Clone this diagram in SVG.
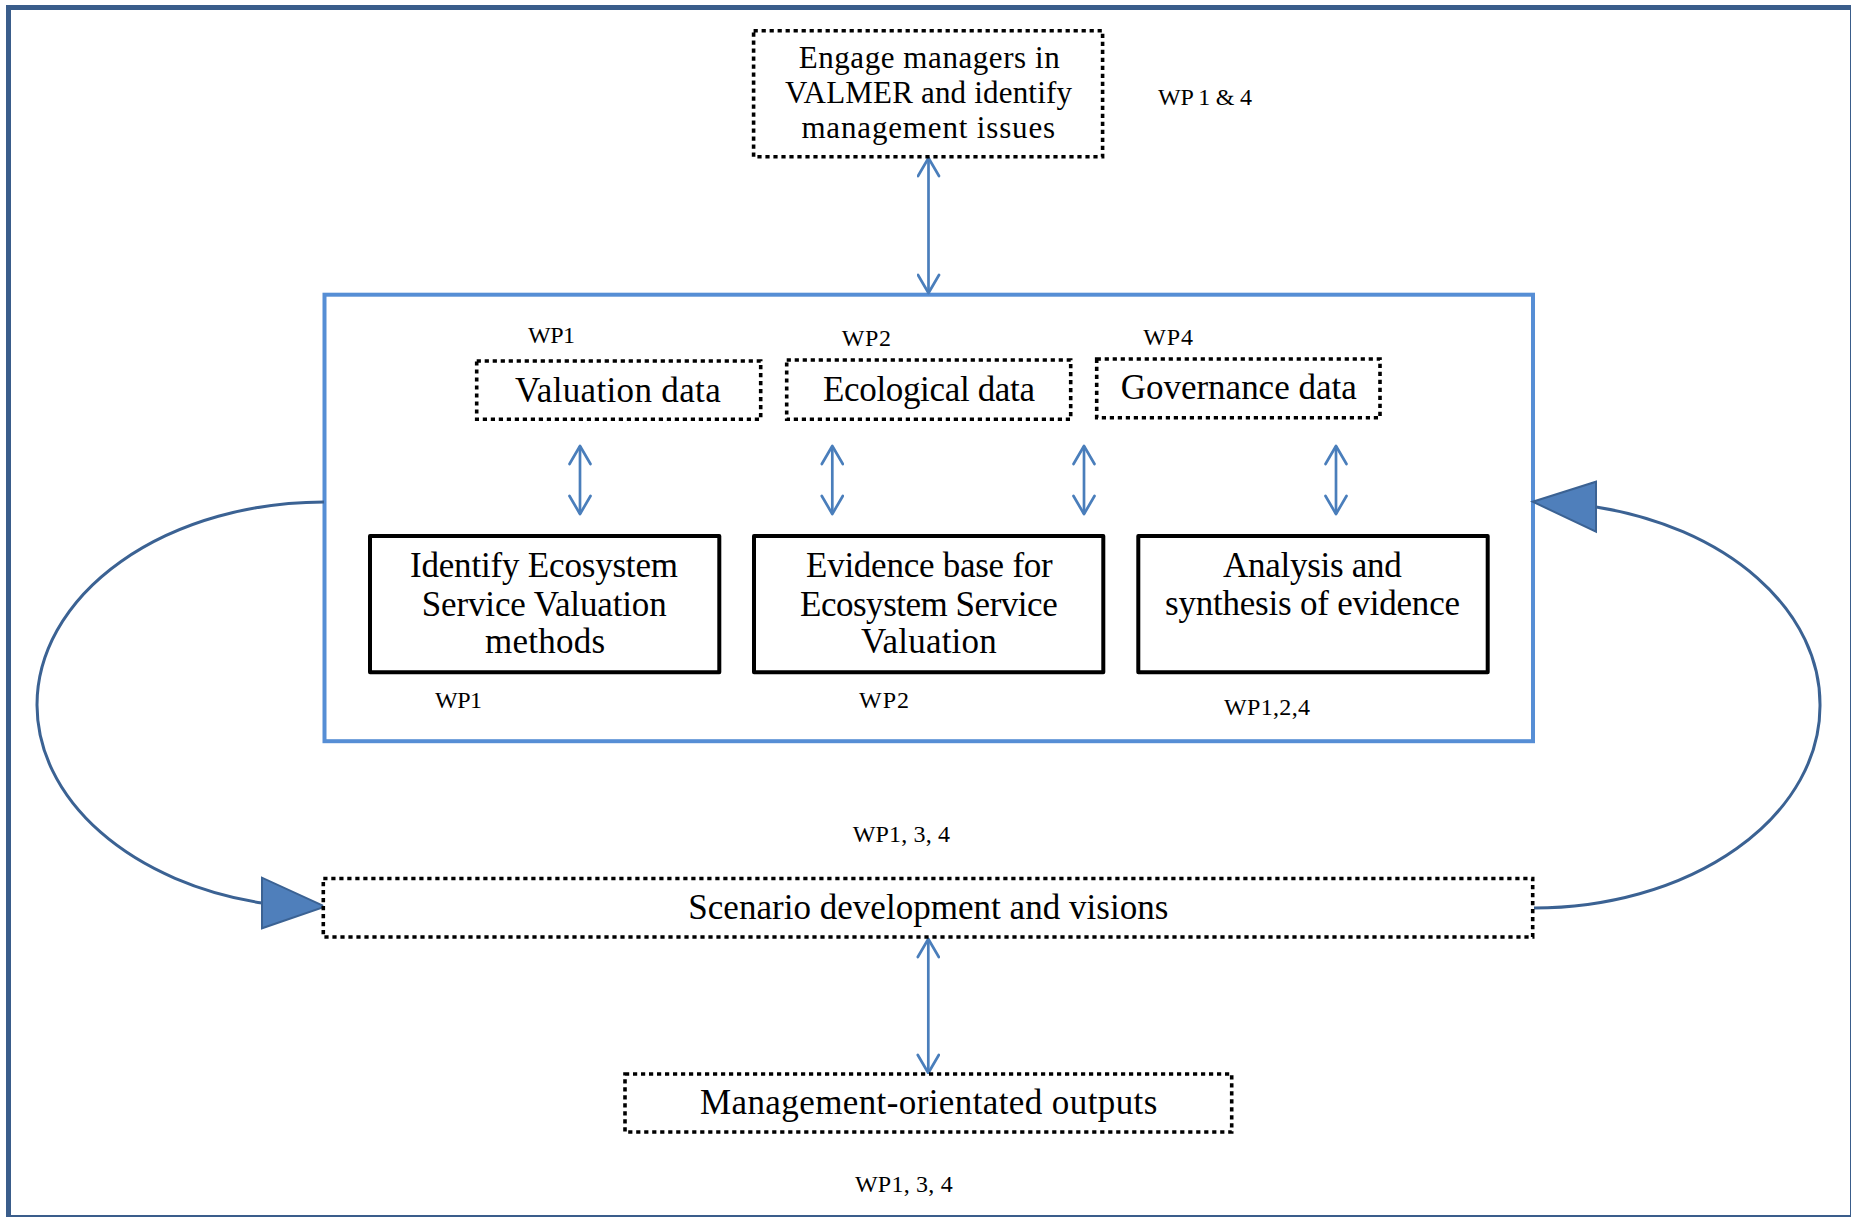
<svg xmlns="http://www.w3.org/2000/svg" width="1851" height="1217" viewBox="0 0 1851 1217">
<defs>
<style>
text{font-family:"Liberation Serif","DejaVu Serif",serif;fill:#000}
.t{font-size:35px}
.te{font-size:31px}
.wp{font-size:24px}
.dot{fill:#fff;stroke:#000;stroke-width:3.6;stroke-dasharray:4.2 3.8}
.solid{fill:#fff;stroke:#000;stroke-width:4;stroke-linejoin:round}
.dbl{stroke:#4a7ebb;stroke-width:2.7;fill:none;marker-start:url(#oa);marker-end:url(#oa)}
.arc{fill:none;stroke:#3b6293;stroke-width:3}
.tri{fill:#4f7fbb;stroke:#3b6293;stroke-width:2;stroke-linejoin:miter}
</style>
<marker id="oa" viewBox="-20 -12 22 24" refX="0" refY="0" markerWidth="22" markerHeight="24" markerUnits="userSpaceOnUse" orient="auto-start-reverse">
<path d="M-18,-10.5 L0,0 L-18,10.5" fill="none" stroke="#4a7ebb" stroke-width="2.7" stroke-linejoin="round" stroke-linecap="round"/>
</marker>
</defs>
<rect width="1851" height="1217" fill="#fff"/>
<rect id="frame" x="8.5" y="7.5" width="1844" height="1210" fill="none" stroke="#3a5d8b" stroke-width="5"/>

<g id="workpackage-frame">
<rect x="324.5" y="294.7" width="1208.5" height="446.5" fill="none" stroke="#568ed5" stroke-width="4"/>
</g>

<g id="connectors">
<line class="dbl" x1="928.5" y1="158" x2="928.5" y2="293"/>
<line class="dbl" x1="580" y1="446" x2="580" y2="514"/>
<line class="dbl" x1="832.3" y1="446" x2="832.3" y2="514"/>
<line class="dbl" x1="1084" y1="446" x2="1084" y2="514"/>
<line class="dbl" x1="1336" y1="446" x2="1336" y2="514"/>
<line class="dbl" x1="928.3" y1="939" x2="928.3" y2="1073"/>
<path class="arc" d="M324,502 A287,203 0 0 0 37,705 A287,203 0 0 0 262,903"/>
<polygon class="tri" points="262,877.7 262,928.3 325,906.7"/>
<path class="arc" d="M1596,507 A286,202 0 0 1 1820,705 A286,202 0 0 1 1534,908"/>
<polygon class="tri" points="1596,481.7 1596,531.7 1532.7,501.7"/>
</g>

<g id="engage">
<rect class="dot" x="753.6" y="30.7" width="349" height="126"/>
<text class="te" x="798.7" y="68.3" textLength="261">Engage managers in</text>
<text class="te" x="785" y="103.3" textLength="287">VALMER and identify</text>
<text class="te" x="801.4" y="138.3" textLength="253.7">management issues</text>
</g>
<text id="wp-engage" class="wp" x="1158" y="105" textLength="94">WP 1 &amp; 4</text>

<g id="valuation-data">
<rect class="dot" x="476.7" y="361" width="284" height="58.3"/>
<text class="t" x="515" y="401.7" textLength="205.7">Valuation data</text>
</g>
<text class="wp" x="528" y="343" textLength="47">WP1</text>

<g id="ecological-data">
<rect class="dot" x="786.7" y="360" width="284" height="59.3"/>
<text class="t" x="823" y="400.7" textLength="212">Ecological data</text>
</g>
<text class="wp" x="841.7" y="345.7" textLength="49.3">WP2</text>

<g id="governance-data">
<rect class="dot" x="1096.7" y="359" width="283.3" height="58.7"/>
<text class="t" x="1120.7" y="399.3" textLength="236">Governance data</text>
</g>
<text class="wp" x="1143.3" y="345" textLength="49.7">WP4</text>

<g id="identify-methods">
<rect class="solid" x="370" y="536" width="349.3" height="136.3"/>
<text class="t" x="410" y="576.7" textLength="268">Identify Ecosystem</text>
<text class="t" x="421.7" y="616" textLength="245">Service Valuation</text>
<text class="t" x="485" y="653.3" textLength="120">methods</text>
</g>
<text class="wp" x="435" y="708.3" textLength="47">WP1</text>

<g id="evidence-base">
<rect class="solid" x="754" y="536" width="349.3" height="136.3"/>
<text class="t" x="806" y="576.7" textLength="246.7">Evidence base for</text>
<text class="t" x="800" y="616" textLength="257.7">Ecosystem Service</text>
<text class="t" x="861" y="653.3" textLength="135.7">Valuation</text>
</g>
<text class="wp" x="859" y="708.3" textLength="50">WP2</text>

<g id="analysis-synthesis">
<rect class="solid" x="1138.3" y="536" width="349.4" height="136.3"/>
<text class="t" x="1223" y="576.7" textLength="178.7">Analysis and</text>
<text class="t" x="1165" y="615" textLength="295">synthesis of evidence</text>
</g>
<text class="wp" x="1224" y="715" textLength="86">WP1,2,4</text>

<text class="wp" x="852.7" y="841.7" textLength="97.3">WP1, 3, 4</text>

<g id="scenario">
<rect class="dot" x="323.3" y="878.5" width="1209.4" height="58.5"/>
<text class="t" x="688.3" y="918.5" textLength="480">Scenario development and visions</text>
</g>

<g id="management-outputs">
<rect class="dot" x="625" y="1074" width="606.7" height="58"/>
<text class="t" x="700" y="1114" textLength="457.3">Management-orientated outputs</text>
</g>
<text class="wp" x="855" y="1191.7" textLength="97.7">WP1, 3, 4</text>
</svg>
